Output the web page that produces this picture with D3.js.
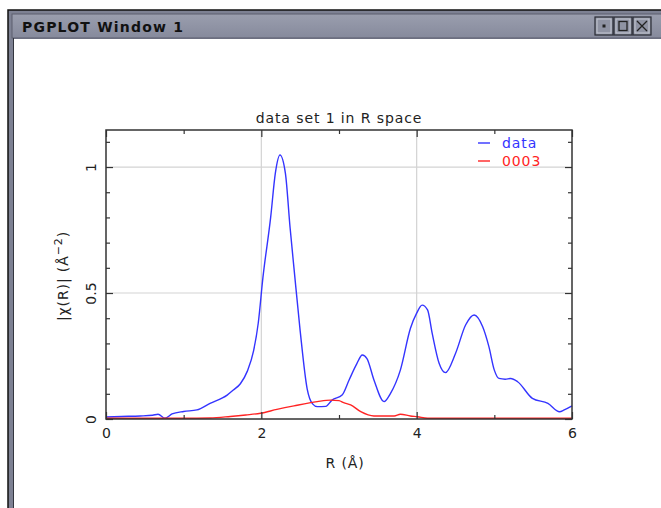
<!DOCTYPE html>
<html>
<head>
<meta charset="utf-8">
<script src="https://cdn.jsdelivr.net/npm/d3@7"></script>
<style>
  body { margin: 0; background: #fff; }
  svg { display: block; }
  .lbl { font-family: "DejaVu Sans", sans-serif; font-size: 14px; letter-spacing: 0.9px; fill: #222; }
  .tick text { font-family: "DejaVu Sans", sans-serif; font-size: 14px; fill: #222; }
  .tick line { stroke: #333; stroke-width: 1.2; }
</style>
</head>
<body>
<svg id="win"></svg>
<script>
// data
let rData = [0, 0.2, 0.44, 0.6, 0.67, 0.76, 0.85, 1.0, 1.17, 1.34, 1.56, 1.64, 1.73, 1.82, 1.90, 1.96,
    2.02, 2.12, 2.18, 2.24, 2.31, 2.37, 2.42, 2.50, 2.59, 2.66, 2.72, 2.83, 2.91, 3.04, 3.13, 3.23,
    3.30, 3.36, 3.45, 3.58, 3.66, 3.79, 3.92, 4.0, 4.07, 4.14, 4.20, 4.29, 4.37, 4.50, 4.63, 4.74,
    4.85, 4.93, 5.00, 5.06, 5.14, 5.21, 5.30, 5.49, 5.69, 5.84, 5.90, 6.0];
let chiData = [0.008, 0.01, 0.012, 0.015, 0.019, 0.003, 0.02, 0.03, 0.036, 0.062, 0.095, 0.115, 0.14, 0.19, 0.27, 0.38,
    0.56, 0.80, 0.975, 1.048, 0.975, 0.76, 0.60, 0.35, 0.12, 0.06, 0.049, 0.05, 0.075, 0.095, 0.155, 0.22,
    0.254, 0.24, 0.155, 0.069, 0.10, 0.194, 0.36, 0.42, 0.452, 0.433, 0.34, 0.22, 0.184, 0.26, 0.373, 0.413,
    0.366, 0.287, 0.194, 0.161, 0.158, 0.161, 0.148, 0.082, 0.062, 0.029, 0.036, 0.052];

let rFit = [0, 1.0, 1.34, 1.6, 1.8, 1.99, 2.2, 2.42, 2.72, 2.89, 3.0, 3.06, 3.15, 3.28, 3.45, 3.71,
    3.79, 3.92, 4.01, 4.14, 4.5, 5.0, 6.0];
let chiFit = [0.003, 0.003, 0.004, 0.01, 0.016, 0.023, 0.038, 0.052, 0.069, 0.075, 0.073, 0.065, 0.056, 0.029, 0.012, 0.012,
    0.019, 0.012, 0.009, 0.003, 0.003, 0.003, 0.003];

let seriesNames = ["data", "0003"];
let seriesColors = ["#3434ff", "#ff2424"];
let xMajor = [0, 2, 4, 6];
let xMinor = [1, 3, 5];
let yMajor = [0, 0.5, 1];
let yMinor = [0.1, 0.2, 0.3, 0.4, 0.6, 0.7, 0.8, 0.9, 1.1];

function drawWindow(svg) {
    // window frame and title bar
    svg.append('rect').attr('x', 8).attr('y', 10).attr('width', 660).attr('height', 510)
        .attr('fill', '#7d8193').attr('stroke', '#111').attr('stroke-width', 1.5);
    let grad = svg.append('defs').append('linearGradient').attr('id', 'tb')
        .attr('x1', 0).attr('y1', 0).attr('x2', 0).attr('y2', 1);
    grad.append('stop').attr('offset', 0).attr('stop-color', '#9a9eae');
    grad.append('stop').attr('offset', 1).attr('stop-color', '#868a9c');
    svg.append('rect').attr('x', 12).attr('y', 14).attr('width', 660).attr('height', 24)
        .attr('fill', 'url(#tb)').attr('stroke', '#5c5f6e');
    svg.append('text').attr('x', 22).attr('y', 32)
        .style('font-family', '"DejaVu Sans", sans-serif').style('font-weight', 'bold')
        .style('font-size', '14px').attr('fill', '#111')
        .attr('textLength', 161).text('PGPLOT Window 1');
    let bx = [595, 614, 633];
    bx.forEach((x0, i) => {
        svg.append('rect').attr('x', x0).attr('y', 17).attr('width', 18).attr('height', 18)
            .attr('fill', '#8f93a3').attr('stroke', '#2a2c35').attr('stroke-width', 1.2);
        svg.append('rect').attr('x', x0 + 2).attr('y', 19).attr('width', 14).attr('height', 14)
            .attr('fill', 'none').attr('stroke', '#c4c7d2').attr('stroke-width', 1);
        if (i == 0) {
            svg.append('rect').attr('x', x0 + 7.5).attr('y', 24.5).attr('width', 3).attr('height', 3).attr('fill', '#222');
        } else if (i == 1) {
            svg.append('rect').attr('x', x0 + 5).attr('y', 21.5).attr('width', 8).attr('height', 9)
                .attr('fill', 'none').attr('stroke', '#222').attr('stroke-width', 1.3);
        } else {
            svg.append('path').attr('d', `M${x0 + 4},21 L${x0 + 14},31 M${x0 + 14},21 L${x0 + 4},31`)
                .attr('stroke', '#222').attr('stroke-width', 1.3);
        }
    });
    // drawing area
    svg.append('rect').attr('x', 14).attr('y', 39).attr('width', 660).attr('height', 480)
        .attr('fill', '#fff');
    svg.append('line').attr('x1', 13.5).attr('x2', 13.5).attr('y1', 38).attr('y2', 508)
        .attr('stroke', '#33363f').attr('stroke-width', 1);
}

function createPlot() {
    let w = 661, h = 508;
    let svg = d3.select('#win').attr('width', w).attr('height', h);
    drawWindow(svg);

    let left = 106, right = 572, top = 130, bottom = 419;
    let x = d3.scaleLinear().domain([0, 6]).range([left, right]);
    let y = d3.scaleLinear().domain([0, 1.147]).range([bottom, top]);

    // grid
    let g = svg.append('g');
    g.selectAll('line.gx').data([2, 4]).enter().append('line')
        .attr('x1', d => x(d)).attr('x2', d => x(d)).attr('y1', top).attr('y2', bottom)
        .attr('stroke', '#d3d3d3').attr('stroke-width', 1.2);
    g.selectAll('line.gy').data([0.5, 1]).enter().append('line')
        .attr('x1', left).attr('x2', right).attr('y1', d => y(d)).attr('y2', d => y(d))
        .attr('stroke', '#d3d3d3').attr('stroke-width', 1.2);

    // lines
    let line = d3.line().curve(d3.curveMonotoneX);
    svg.append('path')
        .datum(rData.map((r, i) => [x(r), y(chiData[i])]))
        .attr('d', line).attr('fill', 'none')
        .attr('stroke', seriesColors[0]).attr('stroke-width', 1.4);
    svg.append('path')
        .datum(rFit.map((r, i) => [x(r), y(chiFit[i])]))
        .attr('d', line).attr('fill', 'none')
        .attr('stroke', seriesColors[1]).attr('stroke-width', 1.4);

    // axes, ticks point inward
    let ax = (gen, tx, ty) => {
        let a = svg.append('g').attr('transform', `translate(${tx},${ty})`).call(gen);
        a.select('.domain').remove();
        return a;
    };
    ax(d3.axisBottom(x).tickValues(xMajor).tickSize(-7).tickPadding(9).tickFormat(d3.format('d')), 0, bottom);
    ax(d3.axisBottom(x).tickValues(xMinor).tickSize(-4).tickFormat(''), 0, bottom);
    ax(d3.axisTop(x).tickValues(xMajor).tickSize(-7).tickFormat(''), 0, top);
    ax(d3.axisTop(x).tickValues(xMinor).tickSize(-4).tickFormat(''), 0, top);

    let yl = ax(d3.axisLeft(y).tickValues(yMajor).tickSize(-7).tickFormat(d => d), left, 0);
    yl.selectAll('text').attr('x', 0).attr('dy', 0)
        .attr('text-anchor', 'middle')
        .attr('transform', 'translate(-10.5,0) rotate(-90)');
    ax(d3.axisLeft(y).tickValues(yMinor).tickSize(-4).tickFormat(''), left, 0);
    ax(d3.axisRight(y).tickValues(yMajor).tickSize(-7).tickFormat(''), right, 0);
    ax(d3.axisRight(y).tickValues(yMinor).tickSize(-4).tickFormat(''), right, 0);

    // frame
    svg.append('rect').attr('x', left).attr('y', top)
        .attr('width', right - left).attr('height', bottom - top)
        .attr('fill', 'none').attr('stroke', '#333').attr('stroke-width', 1.5);

    // labels
    svg.append('text').classed('lbl', true).attr('x', 339).attr('y', 123)
        .attr('text-anchor', 'middle').text('data set 1 in R space');
    svg.append('text').classed('lbl', true).attr('x', 345).attr('y', 468)
        .attr('text-anchor', 'middle').text('R (Å)');
    let ylab = svg.append('text').classed('lbl', true)
        .attr('transform', 'translate(68,276) rotate(-90)')
        .attr('text-anchor', 'middle');
    ylab.append('tspan').text('|χ(R)| (Å');
    ylab.append('tspan').attr('dy', -6).style('font-size', '11px').text('−2');
    ylab.append('tspan').attr('dy', 6).text(')');

    // legend
    let leg = svg.append('g');
    seriesNames.forEach((n, i) => {
        let ly = 143 + i * 18;
        leg.append('line').attr('x1', 478).attr('x2', 490).attr('y1', ly).attr('y2', ly)
            .attr('stroke', seriesColors[i]).attr('stroke-width', 1.4);
        leg.append('text').classed('lbl', true).attr('x', 502).attr('y', ly + 5)
            .style('fill', seriesColors[i]).text(n);
    });
}

window.onload = function() {
    createPlot();
}
</script>
</body>
</html>
